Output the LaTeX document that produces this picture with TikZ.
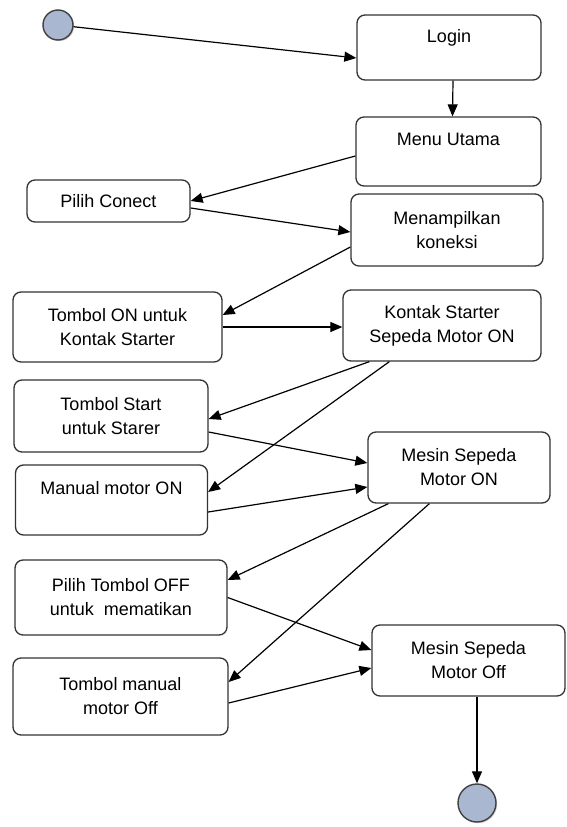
\documentclass[tikz,border=0pt]{standalone}
\usepackage{fontspec}
\setmainfont{Liberation Sans}
\usetikzlibrary{arrows.meta,shadows}
\definecolor{circfill}{HTML}{A9B8D0}
\definecolor{boxline}{HTML}{333333}
\begin{document}
\begin{tikzpicture}[x=1pt,y=-1pt,
  actbox/.style={draw=boxline, line width=1.3pt, rounded corners=8pt, fill=white,
    align=center, inner sep=0pt, font=\fontsize{18}{24}\selectfont},
  termcirc/.style={circle, draw=black!75, line width=1.4pt, fill=circfill, inner sep=0pt,
    drop shadow={shadow xshift=1.2pt, shadow yshift=-1.2pt, opacity=0.35}},
  flow/.style={draw=black, line width=1.2pt, -{Triangle[length=12pt,width=10pt]}}]
\useasboundingbox (0,0) rectangle (566,827);
% terminals
\node[termcirc, minimum size=30pt] (start) at (58,25) {};
\node[termcirc, minimum size=38pt] (end) at (477,803) {};
% activity boxes
\node[actbox, minimum width=184pt, minimum height=65pt] (login) at (449,47.5) {Login\\\mbox{}};
\node[actbox, minimum width=185pt, minimum height=69pt] (menu) at (448.5,151.5) {Menu Utama\\\mbox{}};
\node[actbox, minimum width=163pt, minimum height=42pt] (pilih) at (108.5,201) {Pilih Conect};
\node[actbox, minimum width=192pt, minimum height=72pt] (tampil) at (447,230) {Menampilkan\\koneksi};
\node[actbox, minimum width=209pt, minimum height=70pt] (tombolon) at (117.5,327) {Tombol ON untuk\\Kontak Starter};
\node[actbox, minimum width=198pt, minimum height=71pt] (kontak) at (442,325.5) {Kontak Starter\\Sepeda Motor ON};
\node[actbox, minimum width=194pt, minimum height=72pt] (tstart) at (111,416) {Tombol Start\\untuk Starer};
\node[actbox, minimum width=192pt, minimum height=70pt] (manon) at (111.5,500) {Manual motor ON\\\mbox{}};
\node[actbox, minimum width=182pt, minimum height=71pt] (mesinon) at (459,467.5) {Mesin Sepeda\\Motor ON};
\node[actbox, minimum width=212pt, minimum height=75pt] (pilihoff) at (121,597.5) {Pilih Tombol OFF\\untuk\ \ mematikan};
\node[actbox, minimum width=215pt, minimum height=77pt] (tmanual) at (120.5,696.5) {Tombol manual\\motor Off};
\node[actbox, minimum width=193pt, minimum height=71pt] (mesinoff) at (468.5,660.5) {Mesin Sepeda\\Motor Off};
% connectors
\draw[flow] (start) -- ([yshift=-10.5pt]login.west);
\draw[flow] ([xshift=4pt]login.south) -- ([xshift=4pt]menu.north);
\draw[flow] ([yshift=-4.5pt]menu.west) -- (pilih.east);
\draw[flow] ([yshift=-7pt]pilih.east) -- ([yshift=-2pt]tampil.west);
\draw[flow] ([yshift=-17pt]tampil.west) -- ([yshift=12pt]tombolon.east);
\draw[flow] (tombolon.east) -- (tombolon.east -| kontak.west);
\draw[flow] ([xshift=27pt]kontak.south west) -- ([yshift=-3pt]tstart.east);
\draw[flow] ([xshift=47pt]kontak.south west) -- ([yshift=8pt]manon.east);
\draw[flow] ([yshift=-16pt]tstart.east) -- ([yshift=4.5pt]mesinon.west);
\draw[flow] ([yshift=-12pt]manon.east) -- ([yshift=-19.5pt]mesinon.west);
\draw[flow] ([xshift=21pt]mesinon.south west) -- ([yshift=17.5pt]pilihoff.east);
\draw[flow] ([xshift=62pt]mesinon.south west) -- ([yshift=14.5pt]tmanual.east);
\draw[flow] (pilihoff.east) -- ([yshift=10.5pt]mesinoff.west);
\draw[flow] ([yshift=-6.5pt]tmanual.east) -- ([yshift=-7.5pt]mesinoff.west);
\draw[flow] ([xshift=8.5pt]mesinoff.south) -- (end);
\end{tikzpicture}
\end{document}
